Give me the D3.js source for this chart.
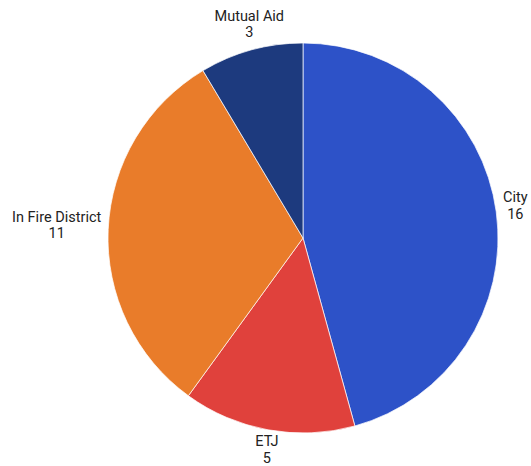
<!DOCTYPE html>
<html>
<head>
<meta charset="utf-8">
<script src="https://cdn.jsdelivr.net/npm/d3@7"></script>
<style>
  body { margin: 0; background: #fff; }
  text { font-family: Roboto, "Noto Sans", sans-serif; font-size: 14.5px; fill: #222; }
</style>
</head>
<body>
<div id="chart"></div>
<script>
// slices, clockwise from 12 o'clock
var categories = ["City", "ETJ", "In Fire District", "Mutual Aid"];
var counts = [16, 5, 11, 3];
var colors = ["#2d52c8", "#e0413c", "#e97c2a", "#1d3a7e"];

var width = 531, height = 466;
var cx = 303, cy = 238, radius = 195;

var svg = d3.select("#chart").append("svg")
    .attr("width", width)
    .attr("height", height);

var data = categories.map(function(c, i) { return { name: c, value: counts[i] }; });

var pie = d3.pie()
    .sort(null)
    .value(function(d) { return d.value; });

var arc = d3.arc()
    .innerRadius(0)
    .outerRadius(radius);

var g = svg.append("g")
    .attr("transform", "translate(" + cx + "," + cy + ")");

var arcs = pie(data);

g.selectAll(".slice")
    .data(arcs)
  .enter().append("path")
    .attr("class", "slice")
    .attr("d", arc)
    .style("fill", function(d, i) { return colors[i]; })
    .style("stroke", "#fff")
    .style("stroke-width", 0.7);

// labels outside the pie, two lines (name / count)
var lineH = 16.5;
arcs.forEach(function(d) {
    var a = (d.startAngle + d.endAngle) / 2;
    var s = Math.sin(a), c = Math.cos(a);
    var px = (radius + 7) * s, py = -(radius + 7) * c;

    var lbl = g.append("g").attr("class", "label");
    var t1 = lbl.append("text").attr("text-anchor", "middle").text(d.data.name);
    var t2 = lbl.append("text").attr("text-anchor", "middle").text(d.data.value);
    var w = Math.max(t1.node().getComputedTextLength(), t2.node().getComputedTextLength());
    var h = lineH * 2;

    // side labels hug the pie, top/bottom labels are centred on the slice
    var left = Math.abs(s) > 0.7 ? px - w / 2 + s * w / 2 : px - w / 2;
    var top = py - h / 2 - c * h / 2 - 3;
    var mid = left + w / 2;

    t1.attr("x", mid).attr("y", top + 13);
    t2.attr("x", mid).attr("y", top + 13 + lineH);
});
</script>
</body>
</html>
